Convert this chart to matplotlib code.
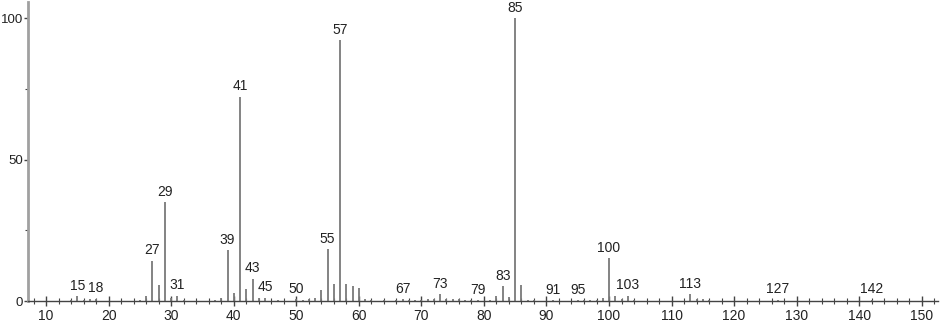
import matplotlib
matplotlib.use("Agg")
import matplotlib.pyplot as plt
from matplotlib.ticker import MultipleLocator

mz = [14, 15, 16, 17, 18, 25, 26, 27, 28, 29, 30, 31, 32, 37, 38, 39, 40, 41, 42, 43,
      44, 45, 47, 50, 51, 52, 53, 54, 55, 56, 57, 58, 59, 60, 61, 62, 64, 66, 67, 68,
      69, 70, 71, 72, 73, 74, 75, 76, 77, 78, 79, 81, 82, 83, 84, 85, 86, 87, 88, 91,
      95, 96, 97, 98, 99, 100, 101, 102, 103, 104, 113, 114, 115, 116, 127, 142]
intensity = [0.5, 1.6, 0.3, 0.6, 0.8, 0.5, 1.9, 14.2, 5.6, 35.0, 1.2, 1.9, 0.3, 0.4, 1.0, 18.0, 2.8, 72.2, 4.1, 7.9,
             1.2, 1.2, 0.3, 0.6, 0.5, 0.7, 1.1, 4.0, 18.4, 5.9, 92.2, 5.9, 5.3, 4.6, 0.6, 0.3, 0.3, 0.3, 0.6, 0.3,
             0.4, 0.5, 0.6, 0.8, 2.3, 0.6, 0.8, 0.6, 0.5, 0.3, 0.3, 0.5, 1.8, 5.3, 1.3, 100.0, 5.5, 0.5, 0.5, 0.3,
             0.3, 0.3, 0.3, 0.3, 1.0, 15.1, 1.9, 0.6, 1.9, 0.5, 2.4, 0.8, 0.6, 0.5, 0.5, 0.4]
labeled = [15, 18, 27, 29, 31, 39, 41, 43, 45, 50, 55, 57, 67, 73, 79, 83, 85, 91, 95, 100, 103, 113, 127, 142]

plt.rcParams["font.family"] = ["Liberation Sans", "DejaVu Sans"]

fig = plt.figure(figsize=(9.4, 3.24), dpi=100)
ax = fig.add_axes([28/940, 23/324, 910/940, 299/324])

ax.vlines(mz, 0, intensity, colors="#7a7a7a", linewidth=1.3)
lookup = dict(zip(mz, intensity))
for m in labeled:
    ax.text(m, lookup[m] + 1.2, str(m), ha="center", va="bottom",
            fontsize=10, color="#222222")

ax.set_xlim(7.1, 152.6)
ax.set_ylim(0, 105.7)

for s in ["top", "right"]:
    ax.spines[s].set_visible(False)
ax.spines["left"].set_color("#a0a0a0")
ax.spines["left"].set_linewidth(2)
ax.spines["bottom"].set_color("#444444")
ax.spines["bottom"].set_linewidth(1)

ax.xaxis.set_major_locator(MultipleLocator(10))
ax.xaxis.set_minor_locator(MultipleLocator(2))
ax.yaxis.set_major_locator(MultipleLocator(50))
ax.yaxis.set_minor_locator(MultipleLocator(25))
ax.tick_params(axis="x", which="major", direction="inout", length=7, width=1, color="#444444",
               labelsize=10, labelcolor="#222222", pad=2)
ax.tick_params(axis="x", which="minor", direction="inout", length=4, width=0.8, color="#444444")
ax.tick_params(axis="y", which="major", direction="out", length=3, width=1, color="#444444",
               labelsize=9.5, labelcolor="#222222", pad=0.5)
ax.tick_params(axis="y", which="minor", direction="out", length=2, width=0.8, color="#444444")

fig.savefig("out.png", dpi=100)
